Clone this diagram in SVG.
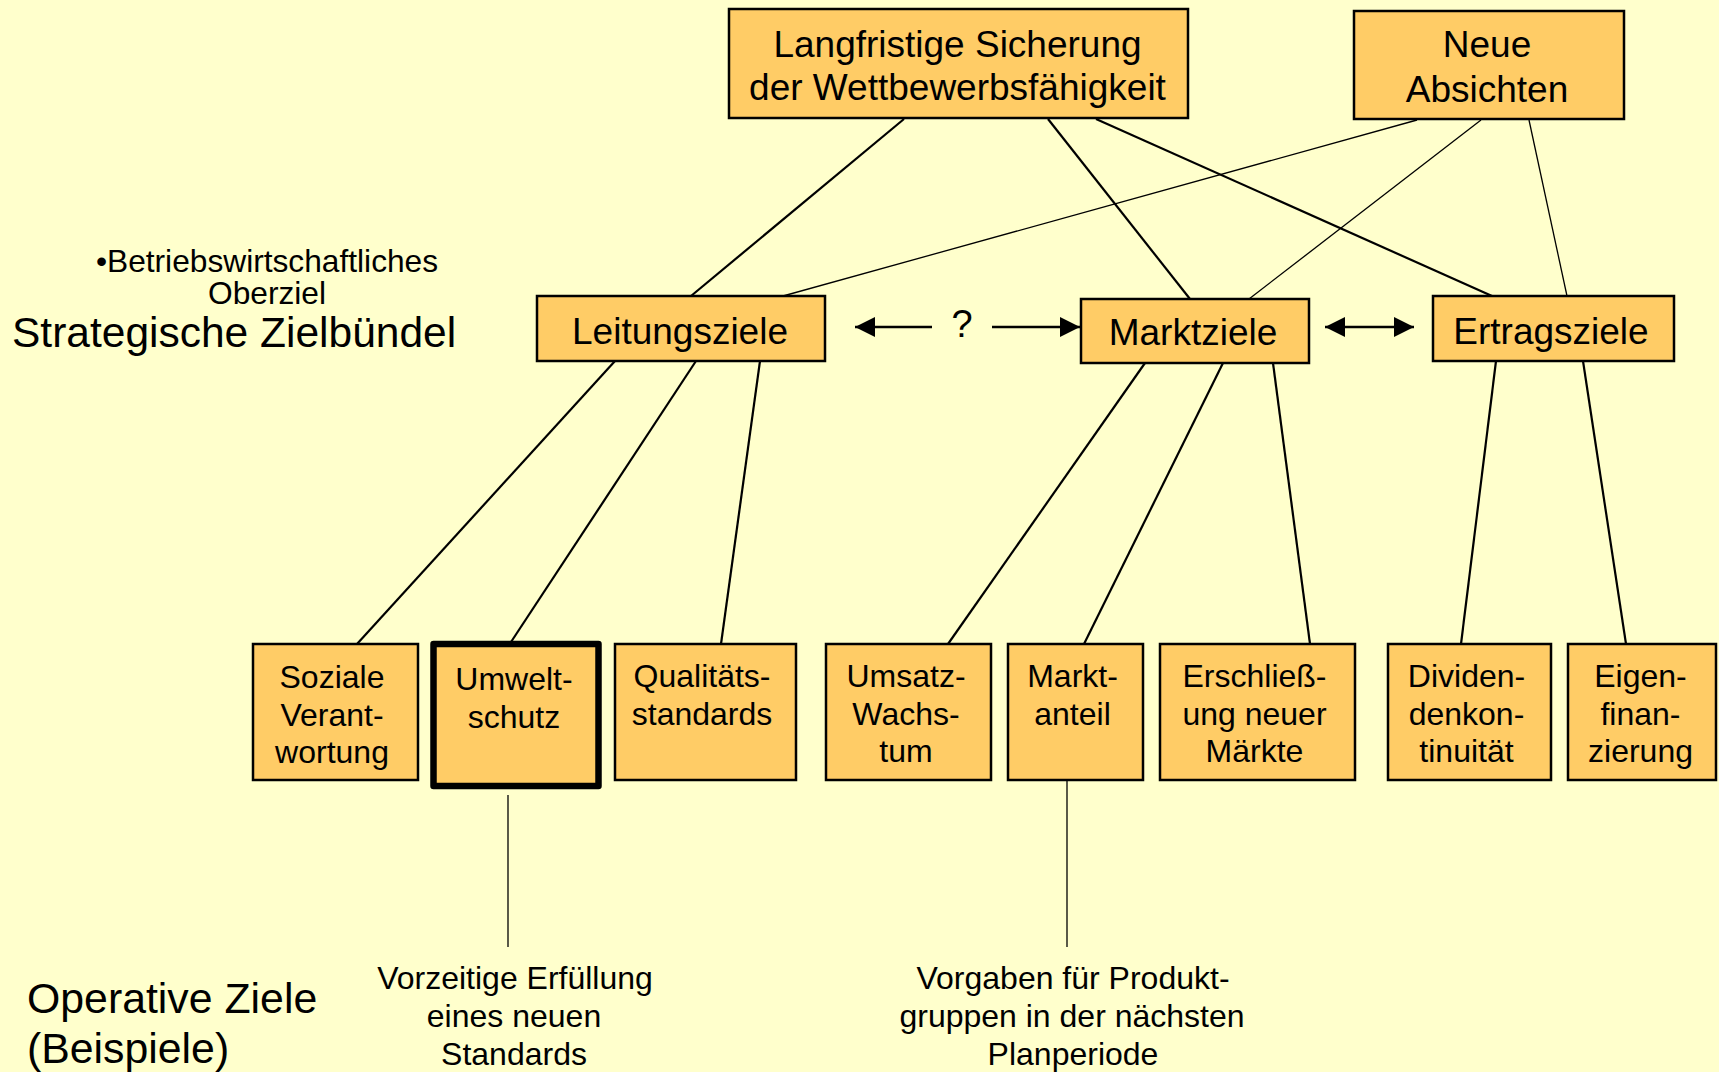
<svg xmlns="http://www.w3.org/2000/svg" width="1719" height="1072" viewBox="0 0 1719 1072">
<style>
.bg{fill:#FFFFCC}
.box{fill:#FFCC66;stroke:#000;stroke-width:2.5}
.bold{fill:#FFCC66;stroke:#000;stroke-width:6.5;stroke-linejoin:round}
.ln{stroke:#000;stroke-width:2.2;fill:none}
.th{stroke:#000;stroke-width:1.3;fill:none}
.ar{stroke:#000;stroke-width:2.5;fill:none}
text{font-family:"Liberation Sans",Arial,sans-serif;fill:#000;text-anchor:middle}
.t37{font-size:37px}
.t32{font-size:32px}
</style>
<defs>
<marker id="ah" viewBox="0 0 20 20" refX="20" refY="10" markerWidth="20" markerHeight="20" markerUnits="userSpaceOnUse" orient="auto-start-reverse">
<path d="M0,0 L20,10 L0,20 Z" fill="#000"/>
</marker>
</defs>
<rect class="bg" x="0" y="0" width="1719" height="1072"/>

<g id="connectors">
<line class="ln" x1="904" y1="119" x2="691" y2="296"/>
<line class="ln" x1="1048" y1="119" x2="1190" y2="299"/>
<line class="ln" x1="1096" y1="119" x2="1492" y2="296"/>
<line class="th" x1="1417" y1="120" x2="783" y2="296"/>
<line class="th" x1="1481" y1="120" x2="1249" y2="299"/>
<line class="th" x1="1529" y1="120" x2="1567" y2="296"/>
<line class="ln" x1="615" y1="361" x2="357" y2="644"/>
<line class="ln" x1="696" y1="361" x2="511" y2="642"/>
<line class="ln" x1="760" y1="361" x2="721" y2="644"/>
<line class="ln" x1="1145" y1="363" x2="948" y2="644"/>
<line class="ln" x1="1223" y1="363" x2="1084" y2="644"/>
<line class="ln" x1="1273" y1="363" x2="1310" y2="644"/>
<line class="ln" x1="1496" y1="361" x2="1461" y2="644"/>
<line class="ln" x1="1583" y1="361" x2="1626" y2="644"/>
<line class="th" x1="508" y1="795" x2="508" y2="947"/>
<line class="th" x1="1067" y1="781" x2="1067" y2="947"/>
<line class="ar" x1="932" y1="327" x2="855" y2="327" marker-end="url(#ah)"/>
<line class="ar" x1="992" y1="327" x2="1080" y2="327" marker-end="url(#ah)"/>
<line class="ar" x1="1325" y1="327" x2="1414" y2="327" marker-start="url(#ah)" marker-end="url(#ah)"/>
<text style="font-size:38px" x="962" y="337">?</text>
</g>

<g id="n-langfristig">
<rect class="box" x="729" y="9" width="459" height="109"/>
<text class="t37" x="957.5" y="57">Langfristige Sicherung</text>
<text class="t37" x="957.5" y="100">der Wettbewerbsfähigkeit</text>
</g>
<g id="n-neue">
<rect class="box" x="1354" y="11" width="270" height="108"/>
<text class="t37" x="1487" y="57">Neue</text>
<text class="t37" x="1487" y="102">Absichten</text>
</g>
<g id="n-leitung">
<rect class="box" x="537" y="296" width="288" height="65"/>
<text class="t37" x="680" y="344">Leitungsziele</text>
</g>
<g id="n-markt">
<rect class="box" x="1081" y="299" width="228" height="64"/>
<text class="t37" x="1193" y="345">Marktziele</text>
</g>
<g id="n-ertrag">
<rect class="box" x="1433" y="296" width="241" height="65"/>
<text class="t37" x="1551" y="344">Ertragsziele</text>
</g>

<g id="n-soziale">
<rect class="box" x="253" y="644" width="165" height="136"/>
<text class="t32" x="332" y="688">Soziale</text>
<text class="t32" x="332" y="726">Verant-</text>
<text class="t32" x="332" y="763">wortung</text>
</g>
<g id="n-umwelt">
<rect class="bold" x="433.5" y="644" width="165" height="142"/>
<text class="t32" x="514" y="690">Umwelt-</text>
<text class="t32" x="514" y="728">schutz</text>
</g>
<g id="n-qualitaet">
<rect class="box" x="615" y="644" width="181" height="136"/>
<text class="t32" x="702" y="687">Qualitäts-</text>
<text class="t32" x="702" y="725">standards</text>
</g>
<g id="n-umsatz">
<rect class="box" x="826" y="644" width="165" height="136"/>
<text class="t32" x="906" y="687">Umsatz-</text>
<text class="t32" x="906" y="725">Wachs-</text>
<text class="t32" x="906" y="762">tum</text>
</g>
<g id="n-marktanteil">
<rect class="box" x="1008" y="644" width="135" height="136"/>
<text class="t32" x="1072.5" y="687">Markt-</text>
<text class="t32" x="1072.5" y="725">anteil</text>
</g>
<g id="n-erschliessung">
<rect class="box" x="1160" y="644" width="195" height="136"/>
<text class="t32" x="1254.5" y="687">Erschließ-</text>
<text class="t32" x="1254.5" y="725">ung neuer</text>
<text class="t32" x="1254.5" y="762">Märkte</text>
</g>
<g id="n-dividende">
<rect class="box" x="1388" y="644" width="163" height="136"/>
<text class="t32" x="1466.5" y="687">Dividen-</text>
<text class="t32" x="1466.5" y="725">denkon-</text>
<text class="t32" x="1466.5" y="762">tinuität</text>
</g>
<g id="n-eigen">
<rect class="box" x="1568" y="644" width="148" height="136"/>
<text class="t32" x="1640.5" y="687">Eigen-</text>
<text class="t32" x="1640.5" y="725">finan-</text>
<text class="t32" x="1640.5" y="762">zierung</text>
</g>

<g id="n-op-umwelt">
<text class="t32" x="515" y="989">Vorzeitige Erfüllung</text>
<text class="t32" x="514" y="1027">eines neuen</text>
<text class="t32" x="514" y="1065">Standards</text>
</g>
<g id="n-op-markt">
<text class="t32" x="1073" y="989">Vorgaben für Produkt-</text>
<text class="t32" x="1072" y="1027">gruppen in der nächsten</text>
<text class="t32" x="1073" y="1065">Planperiode</text>
</g>

<g id="labels">
<text style="font-size:31.7px" x="267" y="272">•Betriebswirtschaftliches</text>
<text style="font-size:31.7px" x="267" y="304">Oberziel</text>
<text style="font-size:42.5px;text-anchor:start" x="12" y="347">Strategische Zielbündel</text>
<text style="font-size:42.8px;text-anchor:start" x="27" y="1013">Operative Ziele</text>
<text style="font-size:42.8px;text-anchor:start" x="27" y="1063">(Beispiele)</text>
</g>
</svg>
